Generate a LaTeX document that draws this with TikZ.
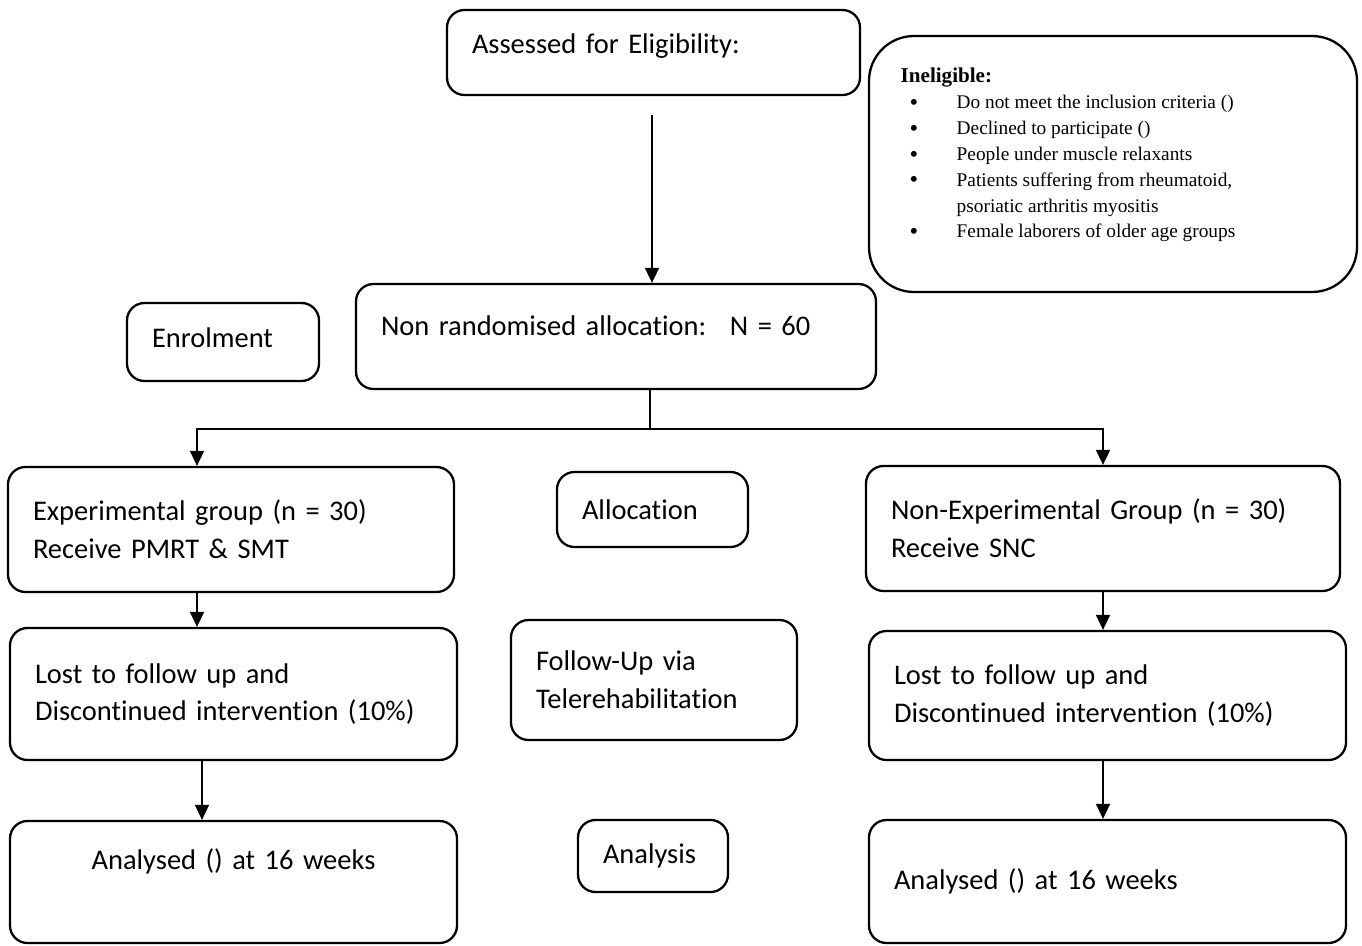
\documentclass[tikz,border=0pt]{standalone}
\usepackage{fontspec}
\setmainfont{Carlito}[Ligatures=NoCommon,WordSpace=0.85]
\newfontfamily\inelfont{Liberation Serif}
\usetikzlibrary{arrows.meta,calc,positioning}
\newcommand{\inelbul}{\hspace*{0.18cm}\makebox[0.94cm][l]{\raisebox{-1pt}{\fontsize{14}{14}\selectfont\textbullet}}}

\begin{document}
\begin{tikzpicture}[font=\fontsize{16.2}{21.5}\selectfont,
      box/.style={draw,line width=1.3pt,rounded corners=0.35cm,align=left,inner xsep=0.5cm},
      arr/.style={-{Triangle[length=0.3cm,width=0.28cm]},line width=1pt}]
  \useasboundingbox (0,0) rectangle (27.24,-18.9);
  % enrolment row
  \node[box,text width=7.26cm,minimum height=1.70cm,text height=0.41cm,text depth=0.36cm] (assess) at (13.07,-1.05) {Assessed for Eligibility:};
  \node[box,rounded corners=0.9cm,minimum width=9.76cm,minimum height=5.12cm] (inel) at (22.26,-3.28) {};
  \node[anchor=north west,inner sep=0pt,align=left,font=\inelfont\fontsize{11}{14.7}\selectfont] (inelt)
    at ($(inel.north west)+(0.65,-0.66)$) {{\fontsize{12}{14.7}\selectfont\textbf{Ineligible:}}\\
    \inelbul Do not meet the inclusion criteria ()\\
    \inelbul Declined to participate ()\\
    \inelbul People under muscle relaxants\\
    \inelbul Patients suffering from rheumatoid,\\
    \hspace*{1.12cm}psoriatic arthritis myositis\\
    \inelbul Female laborers of older age groups};
  \node[box,text width=2.84cm,minimum height=1.56cm,text height=0.41cm,text depth=0.20cm] (enrol) at (4.46,-6.84) {Enrolment};
  \node[box,text width=9.40cm,minimum height=2.10cm,text height=0.41cm,text depth=0.44cm] (nonrand) at (12.32,-6.73) {Non randomised allocation:~ N = 60};
  % allocation row
  \node[box,text width=7.92cm,minimum height=2.50cm] (expgrp) at (4.62,-10.59) {Experimental group (n = 30)\\Receive PMRT \& SMT};
  \node[box,text width=2.82cm,minimum height=1.50cm] (alloc) at (13.05,-10.19) {Allocation};
  \node[box,text width=8.48cm,minimum height=2.50cm] (nonexp) at (22.06,-10.57) {Non-Experimental Group (n = 30)\\Receive SNC};
  % follow-up row
  \node[box,text width=7.94cm,minimum height=2.64cm] (lostexp) at (4.67,-13.88) {Lost to follow up and\\Discontinued intervention (10\%)};
  \node[box,text width=4.72cm,minimum height=2.40cm] (follow) at (13.08,-13.60) {Follow-Up via\\Telerehabilitation};
  \node[box,text width=8.54cm,minimum height=2.58cm] (lostnon) at (22.15,-13.91) {Lost to follow up and\\Discontinued intervention (10\%)};
  % analysis row
  \node[box,align=center,text width=7.94cm,minimum height=2.44cm,text height=0.41cm,text depth=0.90cm] (anaexp) at (4.67,-17.64) {Analysed () at 16 weeks};
  \node[box,text width=2.00cm,minimum height=1.44cm] (analysis) at (13.06,-17.12) {Analysis};
  \node[box,text width=8.54cm,minimum height=2.46cm] (ananon) at (22.15,-17.63) {Analysed () at 16 weeks};
  % connectors
  \coordinate (drop) at (13.04,-2.3);
  \coordinate (split) at (13.0,-8.58);
  \draw[arr] (drop) -- (drop |- nonrand.north);
  \draw[line width=1pt] (split |- nonrand.south) -- (split);
  \draw[arr] (split) -| ([xshift=-0.68cm]expgrp.north);
  \draw[arr] (split) -| (nonexp.north);
  \draw[arr] ([xshift=-0.68cm]expgrp.south) -- ([xshift=-0.68cm]expgrp.south |- lostexp.north);
  \draw[arr] ([xshift=-0.63cm]lostexp.south) -- ([xshift=-0.63cm]anaexp.north);
  \draw[arr] (nonexp.south) -- (nonexp.south |- lostnon.north);
  \draw[arr] (nonexp.south |- lostnon.south) -- (nonexp.south |- ananon.north);
\end{tikzpicture}
\end{document}
